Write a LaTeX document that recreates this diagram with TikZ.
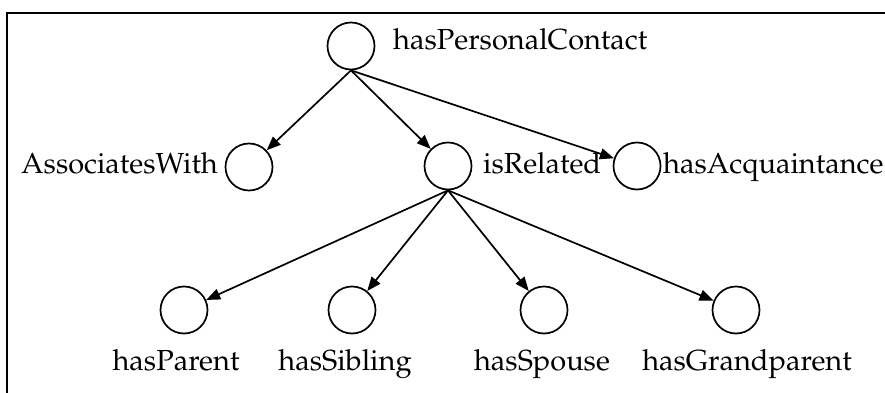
\documentclass[tikz,border=0pt]{standalone}
\usepackage[T1]{fontenc}
\usepackage{mathpazo}
\usetikzlibrary{arrows.meta}
\begin{document}
\begin{tikzpicture}[x=1pt,y=-1pt,
  prop/.style={circle,draw,line width=1.7pt,minimum size=47pt,inner sep=0pt},
  lbl/.style={inner sep=0pt,font=\fontsize{29}{35}\selectfont},
  link/.style={line width=1.7pt,-{Triangle[length=14pt,width=11pt]}}]
\useasboundingbox (0,0) rectangle (885,393);
% frame (top and left edges)
\draw[line width=2.4pt] (7,393) -- (7,13) -- (885,13);

% property nodes
\node[prop] (top)   at (351,46)  {};
\node[prop] (assoc) at (249,167) {};
\node[prop] (rel)   at (448,166) {};
\node[prop] (acq)   at (637,166) {};
\node[prop] (par)   at (184,310) {};
\node[prop] (sib)   at (352,310) {};
\node[prop] (spo)   at (544,310) {};
\node[prop] (gp)    at (736,310) {};

% labels
\node[lbl,anchor=base west] (topL)   at (393,50)  {hasPersonalContact};
\node[lbl,anchor=base east] (assocL) at (218,173) {AssociatesWith};
\node[lbl,anchor=base west] (relL)   at (483,173) {isRelated};
\node[lbl,anchor=base west] (acqL)   at (663,173) {hasAcquaintance};
\node[lbl,anchor=base]      (parL)   at (176,370) {hasParent};
\node[lbl,anchor=base]      (sibL)   at (345,370) {hasSibling};
\node[lbl,anchor=base]      (spoL)   at (542,370) {hasSpouse};
\node[lbl,anchor=base]      (gpL)    at (747,370) {hasGrandparent};

% hierarchy links
\draw[link] (top.south) -- (assoc);
\draw[link] (top.south) -- (rel);
\draw[link] (top.south) -- (acq);
\draw[link] (rel.south) -- (par);
\draw[link] (rel.south) -- (sib);
\draw[link] (rel.south) -- (spo);
\draw[link] (rel.south) -- (gp);
\end{tikzpicture}
\end{document}
